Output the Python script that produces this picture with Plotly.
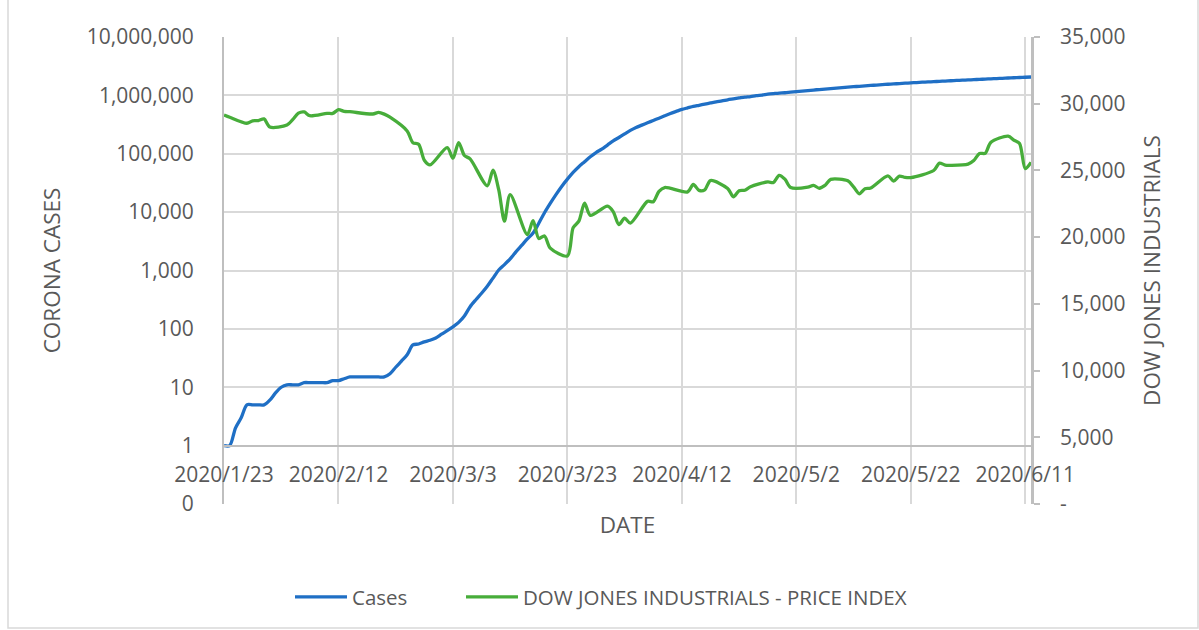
import plotly.graph_objects as go
import pandas as pd

# ---------------- data ----------------
case_start = "2020-01-23"
cases = [
    1, 1, 2, 3, 5, 5, 5, 5, 6, 8,
    10, 11, 11, 11, 12, 12, 12, 12, 12, 13,
    13, 14, 15, 15, 15, 15, 15, 15, 15, 17,
    22, 28, 36, 53, 55, 60, 64, 70, 81, 93,
    108, 129, 166, 240, 316, 407, 537, 741, 1020, 1260,
    1580, 2090, 2690, 3470, 4370, 6460, 9770, 14100, 19950, 27500,
    36700, 47900, 60000, 73000, 89000, 105000, 120000, 141000, 166000, 190000,
    219000, 251000, 282000, 309000, 339000, 372000, 407000, 447000, 490000, 531000,
    575000, 610000, 646000, 676000, 708000, 741000, 776000, 804000, 841000, 871000,
    902000, 933000, 955000, 989000, 1012000, 1047000, 1072000, 1096000, 1109000, 1135000,
    1160000, 1185000, 1210000, 1235000, 1260000, 1285000, 1310000, 1335000, 1360000, 1385000,
    1410000, 1430000, 1455000, 1480000, 1500000, 1525000, 1550000, 1570000, 1595000, 1615000,
    1640000, 1660000, 1680000, 1700000, 1720000, 1740000, 1760000, 1780000, 1800000, 1820000,
    1840000, 1860000, 1880000, 1900000, 1920000, 1940000, 1960000, 1985000, 2005000, 2025000,
    2045000, 2065000,
]
case_dates = pd.date_range(case_start, periods=len(cases), freq="D")

dow_dates = [
    "2020-01-23", "2020-01-24", "2020-01-27", "2020-01-28", "2020-01-29", "2020-01-30", "2020-01-31",
    "2020-02-03", "2020-02-04", "2020-02-05", "2020-02-06", "2020-02-07", "2020-02-10", "2020-02-11",
    "2020-02-12", "2020-02-13", "2020-02-14", "2020-02-18", "2020-02-19", "2020-02-20", "2020-02-21",
    "2020-02-24", "2020-02-25", "2020-02-26", "2020-02-27", "2020-02-28",
    "2020-03-02", "2020-03-03", "2020-03-04", "2020-03-05", "2020-03-06", "2020-03-09", "2020-03-10",
    "2020-03-11", "2020-03-12", "2020-03-13", "2020-03-16", "2020-03-17", "2020-03-18", "2020-03-19",
    "2020-03-20", "2020-03-23", "2020-03-24", "2020-03-25", "2020-03-26", "2020-03-27", "2020-03-30",
    "2020-03-31",
    "2020-04-01", "2020-04-02", "2020-04-03", "2020-04-06", "2020-04-07", "2020-04-08", "2020-04-09",
    "2020-04-13", "2020-04-14", "2020-04-15", "2020-04-16", "2020-04-17", "2020-04-20", "2020-04-21",
    "2020-04-22", "2020-04-23", "2020-04-24", "2020-04-27", "2020-04-28", "2020-04-29", "2020-04-30",
    "2020-05-01", "2020-05-04", "2020-05-05", "2020-05-06", "2020-05-07", "2020-05-08", "2020-05-11",
    "2020-05-12", "2020-05-13", "2020-05-14", "2020-05-15", "2020-05-18", "2020-05-19", "2020-05-20",
    "2020-05-21", "2020-05-22", "2020-05-26", "2020-05-27", "2020-05-28", "2020-05-29",
    "2020-06-01", "2020-06-02", "2020-06-03", "2020-06-04", "2020-06-05", "2020-06-08", "2020-06-09",
    "2020-06-10", "2020-06-11", "2020-06-12",
]
dow_values = [
    29160, 28990, 28535, 28720, 28735, 28860, 28255,
    28400, 28805, 29290, 29380, 29100, 29275, 29275,
    29550, 29425, 29400, 29230, 29350, 29220, 28990,
    27960, 27080, 26960, 25765, 25410,
    26705, 25915, 27090, 26120, 25865, 23850, 25020,
    23555, 21200, 23185, 20190, 21235, 19900, 20090,
    19175, 18590, 20705, 21200, 22550, 21635, 22325,
    21915,
    20945, 21415, 21050, 22680, 22655, 23435, 23720,
    23390, 23950, 23505, 23540, 24240, 23650, 23020,
    23475, 23515, 23775, 24135, 24100, 24635, 24345,
    23725, 23750, 23885, 23665, 23875, 24330, 24220,
    23765, 23250, 23625, 23685, 24595, 24205, 24575,
    24475, 24465, 24995, 25550, 25400, 25385,
    25475, 25740, 26270, 26280, 27110, 27570, 27270,
    27015, 25130, 25605,
]

left_tickvals = [0.1, 1, 10, 100, 1000, 10000, 100000, 1000000, 10000000]
left_ticktext = ["0", "1", "10", "100", "1,000", "10,000", "100,000", "1,000,000", "10,000,000"]
right_tickvals = [0, 5000, 10000, 15000, 20000, 25000, 30000, 35000]
right_ticktext = ["-", "5,000", "10,000", "15,000", "20,000", "25,000", "30,000", "35,000"]

x_range = ["2020-01-23", "2020-06-12"]
tick_step_days = 20

# ---------------- style ----------------
FONT = "Open Sans"
TXT = "#595959"
GRID = "#d9d9d9"
AXIS = "#bfbfbf"
BLUE = "#1f6fc5"
GREEN = "#47ad3a"

def px_x(p):
    return (p - 224) / 807

def px_y(p):
    return (504 - p) / 467

fig = go.Figure()
fig.add_trace(go.Scatter(
    x=case_dates, y=cases, name="Cases", mode="lines",
    line=dict(color=BLUE, width=3.3, shape="spline", smoothing=0.8),
    yaxis="y", legend="legend",
))
fig.add_trace(go.Scatter(
    x=pd.to_datetime(dow_dates), y=dow_values, name="DOW JONES INDUSTRIALS - PRICE INDEX",
    mode="lines",
    line=dict(color=GREEN, width=3.3, shape="spline", smoothing=0.8),
    yaxis="y2", legend="legend2",
))

legend_common = dict(
    orientation="h", yanchor="middle", xanchor="left", itemwidth=52,
    font=dict(size=20.5, color=TXT), bgcolor="rgba(0,0,0,0)",
)

fig.update_layout(
    width=1199, height=630,
    margin=dict(l=224, r=168, t=37, b=126),
    paper_bgcolor="white", plot_bgcolor="white",
    font=dict(family=FONT, color=TXT, size=21),
    xaxis=dict(
        type="date", range=x_range, tick0=x_range[0], dtick=tick_step_days * 86400000,
        tickformat="%Y/%-m/%-d", anchor="free", position=0.125,
        showline=True, linecolor=AXIS, linewidth=2,
        showgrid=True, gridcolor=GRID, gridwidth=1.5,
        ticks="", ticklabelstandoff=10, zeroline=False,
        tickfont=dict(size=21, color=TXT),
        title=dict(text="DATE", font=dict(size=22.5, color=TXT), standoff=29),
    ),
    yaxis=dict(
        type="log", range=[-1, 7], tickvals=left_tickvals, ticktext=left_ticktext,
        showline=True, linecolor=AXIS, linewidth=2,
        showgrid=True, gridcolor=GRID, gridwidth=1.5,
        ticks="", ticklabelstandoff=24, zeroline=False, anchor="x",
        tickfont=dict(size=21, color=TXT),
        title=dict(text="CORONA CASES", font=dict(size=22.5, color=TXT), standoff=20),
    ),
    yaxis2=dict(
        overlaying="y", side="right", anchor="x", range=[0, 35000],
        tickvals=right_tickvals, ticktext=right_ticktext,
        showgrid=False, zeroline=False,
        showline=True, linecolor=AXIS, linewidth=2.5,
        ticks="outside", ticklen=6, tickcolor=AXIS, tickwidth=1.5,
        ticklabelstandoff=16,
        tickfont=dict(size=21, color=TXT),
        title=dict(text="DOW JONES INDUSTRIALS", font=dict(size=22.5, color=TXT), standoff=20),
    ),
    showlegend=True,
    legend=dict(x=px_x(290), y=px_y(597), **legend_common),
    legend2=dict(x=px_x(461), y=px_y(597), **legend_common),
    shapes=[dict(
        type="rect", xref="paper", yref="paper", layer="below",
        x0=px_x(8), x1=px_x(1198), y0=px_y(628), y1=px_y(-10),
        line=dict(color=GRID, width=1.5), fillcolor="rgba(0,0,0,0)",
    )],
)

fig.write_html("out.html", config={"displayModeBar": False},
               post_script="document.body.style.margin='0';")
